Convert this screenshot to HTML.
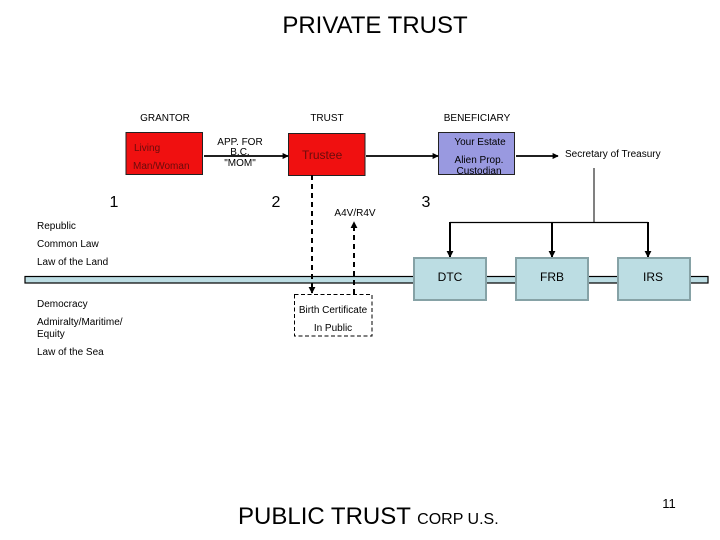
<!DOCTYPE html>
<html><head><meta charset="utf-8"><style>
html,body{margin:0;padding:0;background:#fff}
svg{display:block}
text{font-family:"Liberation Sans",sans-serif;fill:#000}
.s{font-size:10px}
</style></head><body>
<svg width="720" height="540" viewBox="0 0 720 540" xmlns="http://www.w3.org/2000/svg">
<defs>
<marker id="a" markerWidth="3.400" markerHeight="3.400" refX="3" refY="1.700" orient="auto"><path d="M0 0L3.400 1.700L0 3.400Z" fill="#000"/></marker>
</defs>
<rect x="25" y="276.500" width="683" height="6.500" fill="#bcdde3" stroke="#000" stroke-width="1.200"/>
<rect x="126" y="132.500" width="76.500" height="42" fill="#f01010" stroke="#222" stroke-width="1"/>
<rect x="288.500" y="133.500" width="76.500" height="42" fill="#f01010" stroke="#222" stroke-width="1"/>
<rect x="438.500" y="132.500" width="76" height="42" fill="#9999e0" stroke="#222" stroke-width="1"/>
<g stroke="#000" stroke-width="2" fill="none">
<path d="M204 156H288" marker-end="url(#a)" stroke-width="1.800"/>
<path d="M366 156H438" marker-end="url(#a)" stroke-width="1.800"/>
<path d="M516 156H558" marker-end="url(#a)" stroke-width="1.800"/>
<path d="M594 168V222" stroke-width="1"/>
<path d="M450 222.500H648" stroke-width="1.200"/>
<path d="M450 222V257" marker-end="url(#a)"/>
<path d="M552 222V257" marker-end="url(#a)"/>
<path d="M648 222V257" marker-end="url(#a)"/>
<path d="M312 175V293" stroke-dasharray="5 4" marker-end="url(#a)"/>
<path d="M354 294V222" stroke-dasharray="5 4" marker-end="url(#a)"/>
</g>
<rect x="294.500" y="294.500" width="77.500" height="41.500" fill="#fff" stroke="#000" stroke-width="1" stroke-dasharray="4 2.500"/>
<g fill="#bcdde3" stroke="#86a2a6" stroke-width="2">
<rect x="414" y="258" width="72" height="42"/>
<rect x="516" y="258" width="72" height="42"/>
<rect x="618" y="258" width="72" height="42"/>
</g>
<text x="375" y="33" font-size="24" text-anchor="middle">PRIVATE TRUST</text>
<g class="s">
<text x="165" y="121" text-anchor="middle">GRANTOR</text>
<text x="327" y="121" text-anchor="middle">TRUST</text>
<text x="477" y="121" text-anchor="middle">BENEFICIARY</text>
<text x="134" y="151" style="fill:#6a0c0c">Living</text>
<text x="133" y="169" style="fill:#6a0c0c">Man/Woman</text>
<text x="240" y="145" text-anchor="middle">APP. FOR</text>
<text x="240" y="155" text-anchor="middle">B.C.</text>
<text x="240" y="166" text-anchor="middle">"MOM"</text>
<text x="480" y="145" text-anchor="middle">Your Estate</text>
<text x="479" y="163" text-anchor="middle">Alien Prop.</text>
<text x="479" y="174" text-anchor="middle">Custodian</text>
<text x="565" y="157">Secretary of Treasury</text>
<text x="355" y="216" text-anchor="middle">A4V/R4V</text>
<text x="37" y="229">Republic</text>
<text x="37" y="247">Common Law</text>
<text x="37" y="265">Law of the Land</text>
<text x="37" y="307">Democracy</text>
<text x="37" y="325">Admiralty/Maritime/</text>
<text x="37" y="337">Equity</text>
<text x="37" y="355">Law of the Sea</text>
<text x="333" y="313" text-anchor="middle">Birth Certificate</text>
<text x="333" y="331" text-anchor="middle">In Public</text>
</g>
<text x="302" y="159" font-size="12" style="fill:#6a0c0c">Trustee</text>
<text x="114" y="207" font-size="16" text-anchor="middle">1</text>
<text x="276" y="207" font-size="16" text-anchor="middle">2</text>
<text x="426" y="207" font-size="16" text-anchor="middle">3</text>
<text x="450" y="281" font-size="12" text-anchor="middle">DTC</text>
<text x="552" y="281" font-size="12" text-anchor="middle">FRB</text>
<text x="653" y="281" font-size="12" text-anchor="middle">IRS</text>
<text x="238" y="524" font-size="24">PUBLIC TRUST <tspan font-size="16">CORP U.S.</tspan></text>
<text x="669" y="508" font-size="13" text-anchor="middle">11</text>
</svg>
</body></html>
